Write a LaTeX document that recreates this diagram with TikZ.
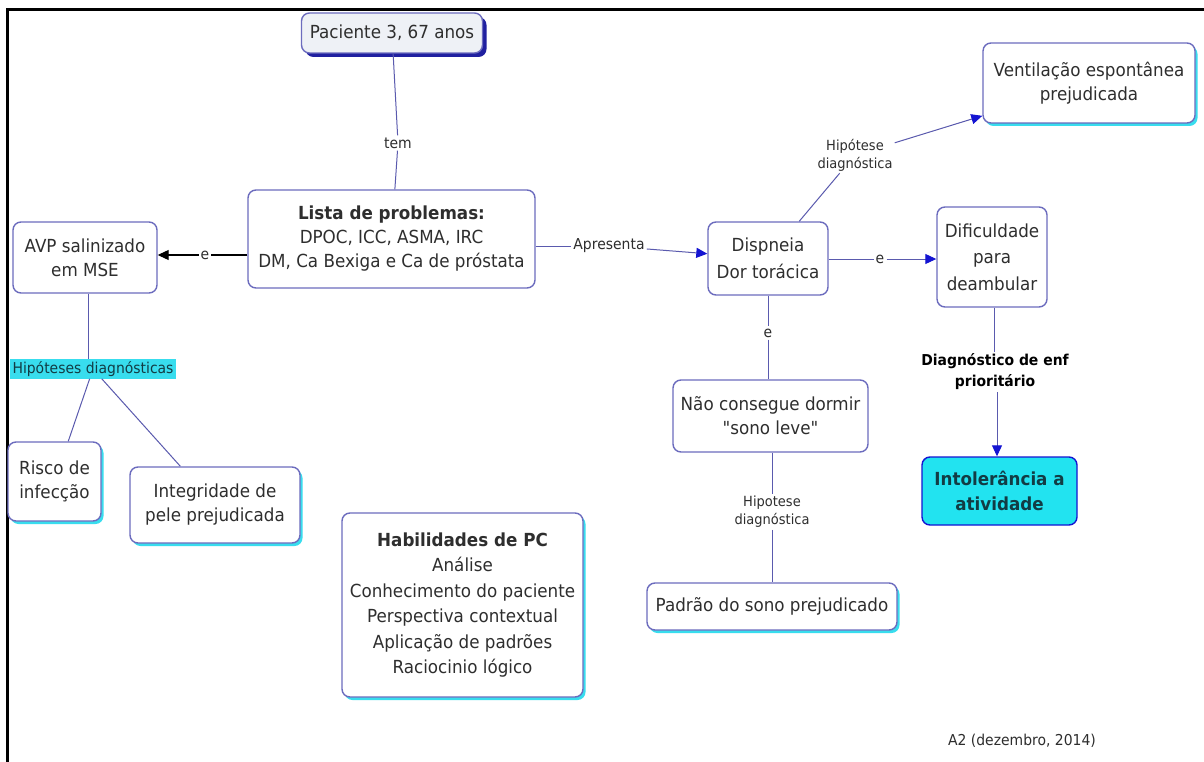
\documentclass[tikz,border=0pt]{standalone}
\usepackage{fontspec}
\setmainfont{DejaVu Sans}
\newfontfamily\conceptfont[FakeStretch=0.93]{DejaVu Sans}
\usetikzlibrary{arrows.meta,shadows}
\definecolor{boxline}{HTML}{6C6CBE}
\definecolor{conn}{HTML}{5A5AAE}
\definecolor{tipblue}{HTML}{1414D2}
\definecolor{txt}{HTML}{2E2E2E}
\definecolor{pacfill}{HTML}{EEF1F6}
\definecolor{pacshadow}{HTML}{2020A0}
\definecolor{glow}{HTML}{38DDEE}
\definecolor{cyanfill}{HTML}{22E3F0}
\definecolor{darkteal}{HTML}{123C44}
\tikzset{
  concept/.style={draw=boxline, line width=1.4pt, rounded corners=8pt, fill=white,
    align=center, text=txt, font=\conceptfont\fontsize{18}{24}\selectfont, inner sep=4pt},
  glowbox/.style={concept, general shadow={fill=glow, shadow xshift=2.5pt, shadow yshift=-3pt}},
  linklabel/.style={text=txt, font=\conceptfont\fontsize{15}{18}\selectfont, inner sep=2pt, align=center},
  smalllabel/.style={text=txt, font=\conceptfont\fontsize{14}{18}\selectfont, inner sep=2pt, align=center},
  link/.style={draw=conn, line width=1pt},
  bluearrow/.style={link, -{Triangle[length=11pt,width=10pt,fill=tipblue,color=tipblue]}},
  blackarrow/.style={draw=black, line width=1.1pt, -{Triangle[length=11pt,width=10pt]}},
}
\begin{document}
\begin{tikzpicture}[x=1pt,y=-1pt]
\useasboundingbox (0,0) rectangle (1204,762);
\fill[white] (0,0) rectangle (1204,762);
% outer frame (top and left edges only)
\draw[line width=3pt] (7,762) -- (7,10) -- (1204,10);

% concepts
\node[concept, fill=pacfill, minimum width=181pt, minimum height=40pt,
  general shadow={fill=pacshadow, shadow xshift=4pt, shadow yshift=-4pt}]
  (pac) at (392,33) {Paciente 3, 67 anos};
\node[concept, minimum width=287pt, minimum height=98pt] (lista) at (391.5,239)
  {\textbf{Lista de problemas:}\\DPOC, ICC, ASMA, IRC\\DM, Ca Bexiga e Ca de próstata};
\node[concept, minimum width=144pt, minimum height=71pt] (avp) at (85,257.5)
  {AVP salinizado\\em MSE};
\node[glowbox, minimum width=93pt, minimum height=79pt] (risco) at (54.5,481.5)
  {Risco de\\infecção};
\node[glowbox, minimum width=170pt, minimum height=76pt] (integ) at (215,505)
  {Integridade de\\pele prejudicada};
\node[glowbox, minimum width=241pt, minimum height=184pt,
  font=\conceptfont\fontsize{18}{25.5}\selectfont] (habil) at (462.5,605)
  {\textbf{Habilidades de PC}\\Análise\\Conhecimento do paciente\\Perspectiva contextual\\Aplicação de padrões\\Raciocinio lógico};
\node[concept, minimum width=120pt, minimum height=73pt,
  font=\conceptfont\fontsize{18}{27}\selectfont] (disp) at (768,258.5)
  {Dispneia\\Dor torácica};
\node[concept, minimum width=110pt, minimum height=100pt,
  font=\conceptfont\fontsize{18}{26.5}\selectfont] (dific) at (992,257)
  {Dificuldade\\para\\deambular};
\node[glowbox, minimum width=212pt, minimum height=80pt] (vent) at (1089,83)
  {Ventilação espontânea\\prejudicada};
\node[concept, minimum width=195pt, minimum height=72pt] (nao) at (770.5,416)
  {Não consegue dormir\\\symbol{34}sono leve\symbol{34}};
\node[glowbox, minimum width=250pt, minimum height=47pt] (padrao) at (772,606.5)
  {Padrão do sono prejudicado};
\node[concept, draw=tipblue, fill=cyanfill, text=darkteal, minimum width=155pt, minimum height=68pt,
  font=\conceptfont\fontsize{18}{25}\selectfont\bfseries] (intol) at (999.5,491)
  {Intolerância a\\atividade};

% linking phrases
\node[linklabel] (ltem) at (398,143) {tem};
\node[linklabel] (le1) at (205,255) {e};
\node[linklabel] (lapr) at (609,246) {Apresenta};
\node[linklabel] (le2) at (880,259) {e};
\node[smalllabel] (lhd1) at (855,155) {Hipótese\\diagnóstica};
\node[linklabel] (le3) at (768,333) {e};
\node[smalllabel] (lhd2) at (772,512) {Hipotese\\diagnóstica};
\node[linklabel, font=\conceptfont\fontsize{15}{21}\selectfont\bfseries, text=black] (ldiag) at (995,372)
  {Diagnóstico de enf\\prioritário};
\node[linklabel, fill=glow, text=darkteal, inner xsep=3pt, inner ysep=2pt] (lhds) at (93,369)
  {Hipóteses diagnósticas};
\node[linklabel] (credit) at (1022,741) {A2 (dezembro, 2014)};

% connections
\draw[link] (pac) -- (ltem);
\draw[link] (ltem) -- (lista);
\draw[draw=black, line width=1.1pt] (lista.west |- le1) -- (le1);
\draw[blackarrow] (le1) -- (avp.east |- le1);
\draw[link] (avp.south -| 88,0) -- (lhds.north -| 88,0);
\draw[link] (lhds) -- (risco);
\draw[link] (lhds) -- (integ);
\draw[link] (lista.east |- lapr) -- (lapr);
\draw[bluearrow] (lapr) -- (disp);
\draw[link] (disp.east |- le2) -- (le2);
\draw[bluearrow] (le2) -- (dific.west |- le2);
\draw[link] (disp) -- (lhd1);
\draw[bluearrow] (lhd1) -- (vent);
\draw[link] (disp) -- (le3);
\draw[link] (le3) -- (nao.north -| le3);
\draw[link] (nao.south -| lhd2) -- (lhd2);
\draw[link] (lhd2) -- (padrao);
\draw[link] (dific.south -| 994,0) -- (ldiag.north -| 994,0);
\draw[bluearrow] (ldiag.south -| 997,0) -- (intol.north -| 997,0);
\end{tikzpicture}
\end{document}
